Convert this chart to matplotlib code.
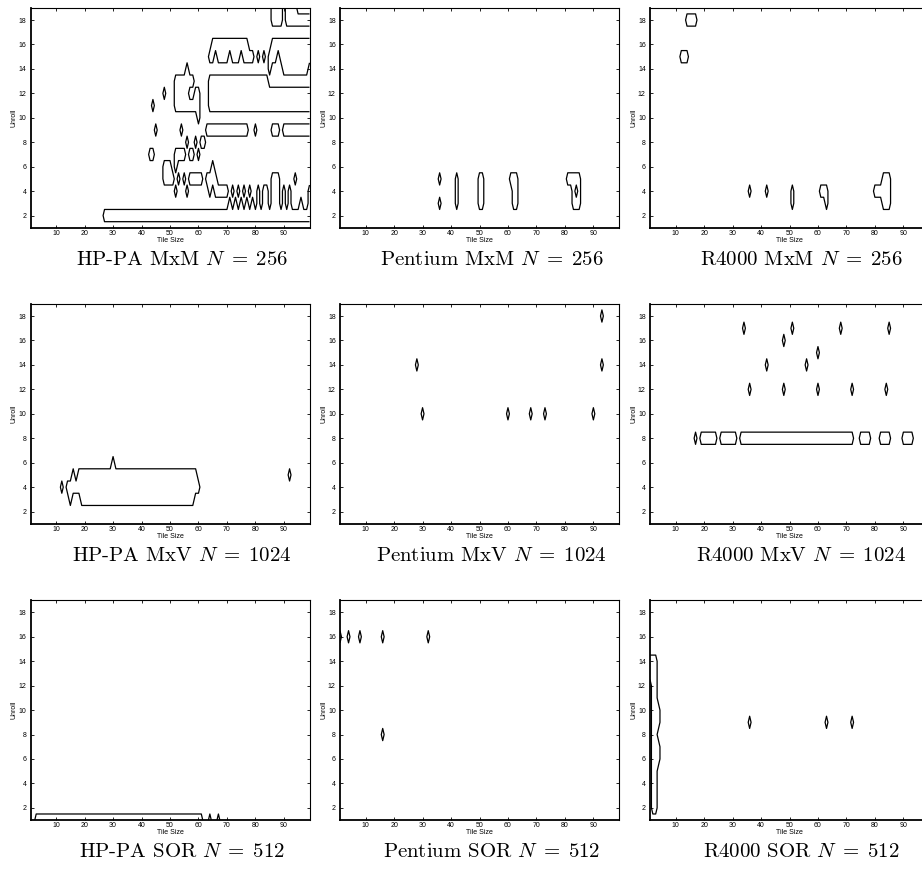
import matplotlib
matplotlib.use('Agg')
from matplotlib import pyplot as plt
import numpy as np

plt.rcParams['mathtext.fontset'] = 'cm'

# tile sizes 1..99, unroll factors 1..19
tile = np.arange(1, 100)
unroll = np.arange(1, 20)

# each panel: unroll -> list of (first tile, last tile) runs that are near the best time
hppa_mxm = {
    19: [(86, 89), (91, 94)],
    18: [(86, 89), (91, 99)],
    16: [(65, 77), (86, 99)],
    15: [(64, 65), (67, 70), (72, 74), (76, 79), (81, 81), (83, 83), (85, 87), (89, 99)],
    14: [(56, 56), (85, 85), (90, 98)],
    13: [(52, 58), (64, 84)],
    12: [(48, 48), (52, 56), (59, 60), (64, 99)],
    11: [(44, 44), (52, 60), (64, 99)],
    10: [(60, 60)],
    9: [(45, 45), (54, 54), (63, 77), (80, 80), (86, 88), (90, 99)],
    8: [(56, 56), (59, 59), (61, 62)],
    7: [(43, 44), (52, 55), (57, 58), (60, 60)],
    6: [(48, 50), (52, 52), (65, 65)],
    5: [(48, 51), (53, 53), (55, 55), (57, 61), (63, 66), (86, 88), (94, 94)],
    4: [(52, 52), (56, 56), (64, 64), (66, 70), (72, 72), (74, 74), (76, 76), (78, 78),
        (81, 81), (83, 84), (86, 88), (90, 90), (92, 92), (99, 99)],
    3: [(71, 71), (73, 73), (75, 75), (77, 77), (79, 79), (81, 81), (83, 84), (86, 88),
        (90, 90), (92, 92), (96, 96), (99, 99)],
    2: [(27, 99)],
}
pentium_mxm = {
    5: [(36, 36), (42, 42), (50, 51), (61, 63), (81, 85)],
    4: [(42, 42), (50, 51), (62, 63), (83, 83), (85, 85)],
    3: [(36, 36), (42, 42), (50, 51), (62, 63), (83, 85)],
}
r4000_mxm = {
    18: [(14, 17)],
    15: [(12, 14)],
    5: [(83, 85)],
    4: [(36, 36), (42, 42), (51, 51), (61, 63), (80, 85)],
    3: [(51, 51), (63, 63), (83, 85)],
}
hppa_mxv = {
    6: [(30, 30)],
    5: [(16, 16), (18, 59), (92, 92)],
    4: [(12, 12), (14, 60)],
    3: [(15, 15), (19, 58)],
}
pentium_mxv = {
    18: [(93, 93)],
    14: [(28, 28), (93, 93)],
    10: [(30, 30), (60, 60), (68, 68), (73, 73), (90, 90)],
}
r4000_mxv = {
    17: [(34, 34), (51, 51), (68, 68), (85, 85)],
    16: [(48, 48)],
    15: [(60, 60)],
    14: [(42, 42), (56, 56)],
    12: [(36, 36), (48, 48), (60, 60), (72, 72), (84, 84)],
    8: [(17, 17), (19, 24), (26, 31), (33, 72), (75, 78), (82, 85), (90, 93)],
}
hppa_sor = {
    1: [(3, 61), (64, 64), (67, 67)],
}
pentium_sor = {
    16: [(1, 1), (4, 4), (8, 8), (16, 16), (32, 32)],
    8: [(16, 16)],
}
r4000_sor = {
    14: [(1, 3)], 13: [(1, 3)], 12: [(2, 3)], 11: [(2, 3)], 10: [(2, 4)],
    9: [(2, 4), (36, 36), (63, 63), (72, 72)],
    8: [(2, 3)], 7: [(2, 4)], 6: [(2, 4)], 5: [(2, 3)], 4: [(2, 3)],
    3: [(2, 3)], 2: [(2, 3)],
}

panels = [
    [hppa_mxm, pentium_mxm, r4000_mxm],
    [hppa_mxv, pentium_mxv, r4000_mxv],
    [hppa_sor, pentium_sor, r4000_sor],
]
machines = ['HP-PA', 'Pentium', 'R4000']
kernels = ['MxM', 'MxV', 'SOR']
sizes = [256, 1024, 512]


def make_grid(runs):
    z = np.zeros((len(unroll), len(tile)))
    for u, spans in runs.items():
        for a, b in spans:
            z[u - 1, a - 1:b] = 1.0
    return z


W, H = 922, 874
fig = plt.figure(figsize=(W / 100, H / 100), dpi=100)

col_left = [30.5, 340, 650]
row_top = [7.8, 303.8, 600.1]
ax_w, ax_h = 279, 220

for r in range(3):
    for c in range(3):
        x0, y0 = col_left[c], row_top[r]
        ax = fig.add_axes([x0 / W, 1 - (y0 + ax_h) / H, ax_w / W, ax_h / H])
        z = make_grid(panels[r][c])
        ax.contour(tile, unroll, z, levels=[0.5], colors='k', linewidths=0.9)
        ax.set_xlim(1, 99)
        ax.set_ylim(1, 19)
        ax.set_xticks(range(10, 100, 10))
        ax.set_yticks(range(2, 19, 2))
        ax.tick_params(direction='in', length=2.5, width=0.6, labelsize=5,
                       top=True, right=True)
        ax.tick_params(axis='x', pad=1.5)
        ax.tick_params(axis='y', pad=3)
        for lab in ax.get_xticklabels() + ax.get_yticklabels():
            lab.set_fontfamily('Liberation Sans')
        for s in ax.spines.values():
            s.set_linewidth(0.8)
        ax.spines['left'].set_linewidth(1.3)
        ax.spines['bottom'].set_linewidth(1.3)
        ax.set_xlabel('Tile Size', fontsize=5, family='Liberation Sans', labelpad=0)
        ax.set_ylabel('Unroll', fontsize=5, family='Liberation Sans', labelpad=0.5)

        title = f'{machines[c]} {kernels[r]} $N\\;=\\;{sizes[r]}$'
        fig.text((x0 + ax_w / 2 + 12) / W, 1 - (y0 + ax_h + 32) / H, title,
                 ha='center', va='center', fontsize=15, family='cmr10')

fig.savefig('out.png', dpi=100)
